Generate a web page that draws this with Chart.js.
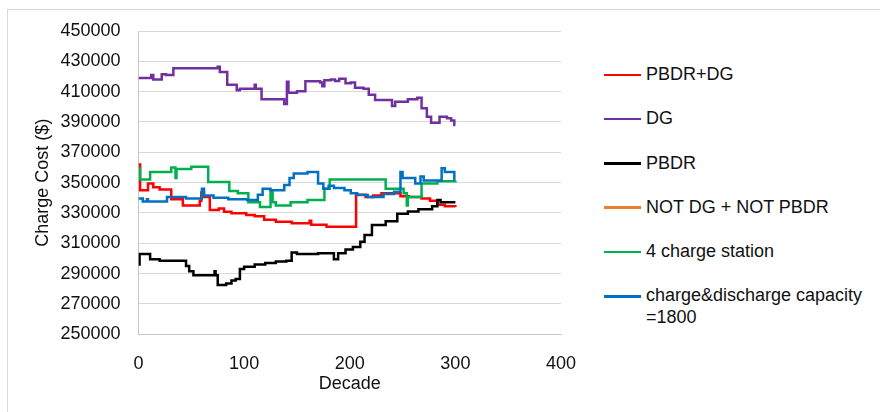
<!DOCTYPE html>
<html>
<head>
<meta charset="utf-8">
<script src="https://cdn.jsdelivr.net/npm/chart.js@4.4.0/dist/chart.umd.min.js"></script>
<style>
  html, body { margin: 0; padding: 0; background: #fff; overflow: hidden; }
  body { width: 880px; height: 412px; position: relative; font-family: "Liberation Sans", Arial, sans-serif; }
  #frame { position: absolute; left: 7px; top: 9px; width: 1000px; height: 1000px; border: 1px solid #d9d9d9; }
  #chart { position: absolute; left: 0; top: 0; }
  #legend { position: absolute; left: 604px; top: 64px; }
  .item { display: flex; align-items: flex-start; font-size: 18px; line-height: 21.6px; color: #111; margin-bottom: 22.7px; white-space: pre-line; }
  .swatch { width: 37px; height: 2.5px; margin-top: 9.6px; margin-right: 5px; flex: none; }
</style>
</head>
<body>
<div id="frame"></div>
<canvas id="chart" width="600" height="412"></canvas>
<div id="legend"></div>
<script>
// Axis ranges
const xMin = 0, xMax = 400, xStep = 100;
const yMin = 250000, yMax = 450000, yStep = 20000;

// Series names (legend order)
const seriesNames = ['PBDR+DG', 'DG', 'PBDR', 'NOT DG + NOT PBDR', '4 charge station', 'charge&discharge capacity\n=1800'];

// PBDR+DG
const pbdrDgX = [0, 1.5, 9, 14, 20, 31, 42, 58, 59.5, 62, 67.5, 76, 81, 88, 102, 110, 119, 130, 145, 162, 163.5, 178, 206, 215, 222, 230, 248, 256, 268, 276, 283, 290, 300];
const pbdrDgY = [362000, 345000, 349500, 347000, 345500, 339000, 335000, 338000, 343500, 340500, 332000, 333000, 330800, 329800, 328600, 327800, 325500, 324200, 323200, 324800, 322200, 321000, 342000, 340500, 341500, 343000, 341000, 340500, 339500, 338000, 335500, 334500, 334000];

// DG
const dgX = [0, 12, 14, 22, 26, 33, 75, 77, 84, 93, 96, 110, 111, 116.5, 138, 140.5, 142, 150, 158, 172, 174, 176, 182, 186, 190, 196, 201, 205, 213, 218, 224, 240, 243, 255, 264, 268, 273, 277, 285, 292, 296, 299, 300];
const dgY = [419000, 421000, 418000, 421500, 421000, 425500, 426500, 423000, 414500, 411000, 412000, 414500, 412000, 405000, 401800, 416500, 409300, 410200, 416800, 416000, 413500, 417500, 418000, 417000, 418500, 415500, 416000, 412500, 412000, 408000, 404500, 400500, 403300, 405000, 406000, 399000, 393500, 389500, 393500, 392500, 391000, 388000, 388000];

// PBDR
const pbdrX = [0, 1, 11, 20, 45, 48, 52, 72, 73, 75, 83, 88, 92, 96, 100, 110, 120, 130, 140, 145, 150, 170, 185, 189, 196, 203, 210, 214, 221, 234, 245, 255, 265, 278, 283, 286, 300];
const pbdrY = [296000, 303000, 299500, 298500, 295000, 291500, 289000, 291500, 289000, 282500, 283500, 285500, 286500, 293000, 294500, 296000, 297000, 298000, 298500, 304000, 303000, 303500, 299500, 303500, 306000, 307500, 311000, 315500, 322000, 324500, 329500, 331000, 332500, 334500, 338500, 337000, 337000];

// NOT DG + NOT PBDR (not visible in the plot)
const notDgNotPbdrX = [];
const notDgNotPbdrY = [];

// 4 charge station
const fourStationX = [0, 1.5, 11, 31, 35, 36, 50, 66, 86, 94, 104, 115, 125, 127, 130, 144, 160, 176, 181, 234, 251, 254, 255, 268, 283, 300];
const fourStationY = [359500, 352000, 357000, 360000, 353000, 359000, 360500, 350500, 344500, 343000, 337000, 334000, 344500, 337000, 335000, 337000, 338500, 346000, 352000, 346000, 343000, 335000, 340500, 349500, 351000, 351500];

// charge&discharge capacity = 1800
const capacityX = [0, 4, 8, 9, 27, 45, 60, 62, 71, 85, 103, 113, 117.5, 125, 138, 143, 147, 160, 170, 175, 180, 185, 195, 201, 207, 217, 232, 242, 248, 250, 262, 267, 270, 287, 290, 299, 300];
const capacityY = [339500, 337500, 339000, 337500, 340500, 339500, 346000, 341500, 340000, 339000, 338500, 342000, 346000, 345000, 348500, 353000, 356000, 357000, 349500, 346000, 348000, 346500, 345000, 343000, 341800, 340500, 342500, 344000, 357000, 353000, 349500, 354000, 351500, 359500, 357000, 352000, 352000];

const seriesX = [pbdrDgX, dgX, pbdrX, notDgNotPbdrX, fourStationX, capacityX];
const seriesY = [pbdrDgY, dgY, pbdrY, notDgNotPbdrY, fourStationY, capacityY];
const seriesColors = ['#ff0000', '#7030a0', '#000000', '#ed7d31', '#00b050', '#0070c0'];

const font = { family: '"Liberation Sans", Arial, sans-serif', size: 18 };
const textColor = '#111';

const datasets = seriesNames.map((name, i) => ({
    label: name,
    data: seriesX[i].map((x, j) => ({ x: x, y: seriesY[i][j] })),
    borderColor: seriesColors[i],
    backgroundColor: seriesColors[i],
    borderWidth: 2.5,
    pointRadius: 0,
    stepped: true,
    fill: false,
    order: seriesNames.length - i
}));

const chart = new Chart(document.getElementById('chart'), {
    type: 'line',
    data: { datasets },
    options: {
        responsive: false,
        animation: false,
        layout: { padding: { top: 31, right: 39, left: 0, bottom: 0 } },
        plugins: { legend: { display: false }, tooltip: { enabled: false } },
        scales: {
            x: {
                type: 'linear',
                min: xMin, max: xMax,
                ticks: { stepSize: xStep, font, color: textColor, padding: 11 },
                grid: { display: false },
                border: { display: true, color: '#c8c8c8', width: 1 },
                title: { display: true, text: 'Decade', font, color: textColor, padding: { top: 0, bottom: 17 } },
                afterFit: s => { s.height = 77.7; }
            },
            y: {
                min: yMin, max: yMax,
                ticks: { stepSize: yStep, font, color: textColor, padding: 18, callback: v => String(v) },
                grid: { color: '#d9d9d9', lineWidth: 1, drawTicks: false },
                border: { display: true, color: '#c8c8c8', width: 1 },
                title: { display: true, text: 'Charge Cost ($)', font, color: textColor, padding: { top: 32.5, bottom: 0 } },
                afterFit: s => { s.width = 138.5; }
            }
        }
    }
});

// HTML legend built from the chart datasets
const legend = document.getElementById('legend');
chart.data.datasets.forEach(ds => {
    const item = document.createElement('div');
    item.className = 'item';
    const sw = document.createElement('span');
    sw.className = 'swatch';
    sw.style.background = ds.borderColor;
    const txt = document.createElement('span');
    txt.textContent = ds.label;
    item.appendChild(sw);
    item.appendChild(txt);
    legend.appendChild(item);
});
</script>
</body>
</html>
